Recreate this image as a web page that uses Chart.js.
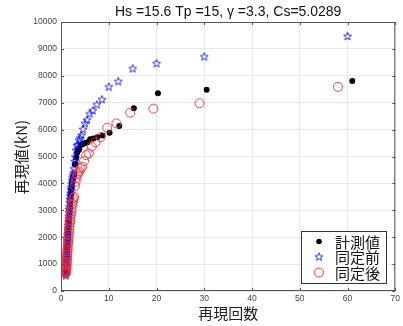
<!DOCTYPE html>
<html>
<head>
<meta charset="utf-8">
<script src="https://cdn.jsdelivr.net/npm/chart.js@4"></script>
<style>
  html, body { margin: 0; padding: 0; background: #fff; }
  #wrap { width: 403px; height: 326px; }
</style>
</head>
<body>
<div id="wrap"><canvas id="c" width="403" height="326"></canvas></div>
<script>
// values
const measuredX = [61, 30.5, 20.3, 15.25, 12.2, 10.17, 8.71, 7.63, 6.78, 6.1, 5.55, 5.08, 4.69, 4.36, 4.07, 3.81, 3.59, 3.39, 3.21, 3.05,
  2.9, 2.77, 2.65, 2.54, 2.44, 2.35, 2.26, 2.18, 2.1, 2.03, 1.97, 1.91, 1.85, 1.79, 1.74, 1.69, 1.65, 1.61, 1.56, 1.53,
  1.49, 1.45, 1.42, 1.39, 1.36, 1.33, 1.3, 1.27, 1.24, 1.22, 1.2, 1.17, 1.15, 1.13, 1.11, 1.09, 1.07, 1.05, 1.03, 1.02];
const measuredY = [7810, 7480, 7350, 6790, 6130, 5880, 5780, 5720, 5670, 5640, 5530, 5500, 5470, 5450, 5420, 5260, 5220, 5150, 4960, 4730,
  4700, 4330, 4280, 4200, 4130, 4060, 3900, 3780, 3650, 3550, 3400, 3250, 3100, 2980, 2850, 2700, 2620, 2520, 2400, 2300,
  2180, 2080, 2000, 1900, 1800, 1700, 1620, 1540, 1450, 1370, 1280, 1200, 1120, 1030, 950, 870, 800, 730, 670, 620];

const beforeX = [60, 30, 20, 15, 12, 10, 8.57, 7.5, 6.67, 6, 5.45, 5, 4.62, 4.29, 4, 3.75, 3.53, 3.33, 3.16, 3,
  2.86, 2.73, 2.61, 2.5, 2.4, 2.31, 2.22, 2.14, 2.07, 2, 1.94, 1.88, 1.82, 1.76, 1.71, 1.67, 1.62, 1.58, 1.54, 1.5,
  1.46, 1.43, 1.4, 1.36, 1.33, 1.3, 1.28, 1.25, 1.22, 1.2, 1.18, 1.15, 1.13, 1.11, 1.09, 1.07, 1.05, 1.03, 1.02, 1];
const beforeY = [9480, 8720, 8470, 8280, 7800, 7600, 7130, 6940, 6720, 6600, 6370, 6240, 6020, 5800, 5700, 5620, 5450, 5420, 5240, 5000,
  4830, 4560, 4400, 4300, 4220, 4120, 4000, 3880, 3780, 3650, 3550, 3420, 3300, 3150, 3050, 2920, 2800, 2700, 2580, 2450,
  2330, 2220, 2120, 2000, 1900, 1800, 1700, 1600, 1500, 1420, 1320, 1230, 1140, 1050, 960, 880, 800, 720, 650, 580];

const afterX = [58, 29, 19.33, 14.5, 11.6, 9.67, 8.29, 7.25, 6.44, 5.8, 5.27, 4.83, 4.46, 4.14, 3.87, 3.63, 3.41, 3.22, 3.05, 2.9,
  2.76, 2.64, 2.52, 2.42, 2.32, 2.23, 2.15, 2.07, 2, 1.93, 1.87, 1.81, 1.76, 1.71, 1.66, 1.61, 1.57, 1.53, 1.49, 1.45,
  1.41, 1.38, 1.35, 1.32, 1.29, 1.26, 1.23, 1.21, 1.18, 1.16, 1.14, 1.12, 1.09, 1.07, 1.05, 1.04, 1.02, 1];
const afterY = [7590, 6980, 6780, 6630, 6230, 6070, 5720, 5530, 5370, 5120, 5050, 4830, 4620, 4560, 4450, 4400, 4330, 4200, 4060, 3900,
  3500, 3450, 3350, 3250, 3200, 3050, 2950, 2850, 2780, 2650, 2580, 2500, 2400, 2300, 2200, 2100, 2000, 1900, 1820, 1750,
  1650, 1560, 1480, 1400, 1330, 1250, 1180, 1100, 1040, 980, 920, 870, 820, 780, 740, 700, 680, 650];

const seriesLabels = ["計測値", "同定前", "同定後"];
const titleText = "Hs =15.6 Tp =15, γ =3.3, Cs=5.0289";
const xTitle = "再現回数";
const yTitle = "再現値(kN)";

const toPts = (xs, ys) => xs.map((x, i) => ({ x, y: ys[i] }));

// pentagram marker like matlab 'p'
function starMarker(size, color) {
  const c = document.createElement("canvas");
  c.width = size; c.height = size;
  const g = c.getContext("2d");
  const cx = size / 2, cy = size / 2 + 0.5, R = size / 2 - 0.8, r = R * 0.42;
  g.beginPath();
  for (let i = 0; i < 10; i++) {
    const a = -Math.PI / 2 + i * Math.PI / 5;
    const rad = i % 2 ? r : R;
    const px = cx + rad * Math.cos(a), py = cy + rad * Math.sin(a);
    i ? g.lineTo(px, py) : g.moveTo(px, py);
  }
  g.closePath();
  g.strokeStyle = color;
  g.lineWidth = 0.8;
  g.stroke();
  return c;
}
const star = starMarker(10, "#0000ff");

const PLOT = { left: 61, right: 399, top: 22, bottom: 291 };

const decor = {
  id: "decor",
  afterDraw(chart) {
    const ctx = chart.ctx;
    const a = chart.chartArea;
    ctx.save();
    // box
    ctx.strokeStyle = "#555";
    ctx.lineWidth = 1;
    ctx.strokeRect(a.left + 0.5, a.top + 0.5, a.right - a.left - 1, a.bottom - a.top - 1);
    // inward ticks
    const xs = chart.scales.x, ys = chart.scales.y;
    ctx.beginPath();
    for (let v = 0; v <= 70; v += 10) {
      const px = Math.round(xs.getPixelForValue(v)) + 0.5;
      ctx.moveTo(px, a.bottom); ctx.lineTo(px, a.bottom - 3);
      ctx.moveTo(px, a.top); ctx.lineTo(px, a.top + 3);
    }
    for (let v = 0; v <= 10000; v += 1000) {
      const py = Math.round(ys.getPixelForValue(v)) + 0.5;
      ctx.moveTo(a.left, py); ctx.lineTo(a.left + 3, py);
      ctx.moveTo(a.right, py); ctx.lineTo(a.right - 3, py);
    }
    ctx.stroke();

    // title
    ctx.fillStyle = "#111";
    ctx.font = "14px 'Liberation Sans', Arial, sans-serif";
    ctx.textAlign = "center";
    ctx.textBaseline = "middle";
    ctx.fillText(titleText, (a.left + a.right) / 2, 12);

    // axis titles
    ctx.font = "15px 'Noto Sans CJK JP', sans-serif";
    ctx.fillStyle = "#222";
    ctx.fillText(xTitle, (a.left + a.right) / 2, 313);
    ctx.save();
    ctx.translate(21, 157);
    ctx.rotate(-Math.PI / 2);
    ctx.fillText(yTitle, 0, 0);
    ctx.restore();

    // legend
    const lx = 301, ly = 231, lw = 85, lh = 52;
    ctx.fillStyle = "#fff";
    ctx.fillRect(lx, ly, lw, lh);
    ctx.strokeStyle = "#333";
    ctx.lineWidth = 1;
    ctx.strokeRect(lx + 0.5, ly + 0.5, lw, lh);
    const rows = [241.5, 257, 272.5];
    ctx.font = "15px 'Noto Sans CJK JP', sans-serif";
    ctx.textAlign = "left";
    rows.forEach((ry, i) => {
      const mx = 319;
      if (i === 0) {
        ctx.fillStyle = "#000";
        ctx.beginPath(); ctx.arc(mx, ry, 2.8, 0, Math.PI * 2); ctx.fill();
      } else if (i === 1) {
        ctx.drawImage(star, mx - 5, ry - 5.5);
      } else {
        ctx.strokeStyle = "#ff3030";
        ctx.beginPath(); ctx.arc(mx, ry, 4.5, 0, Math.PI * 2); ctx.stroke();
      }
      ctx.fillStyle = "#111";
      ctx.fillText(seriesLabels[i], 335, ry + 0.5);
    });
    ctx.restore();
  },
};

const tickFont = { size: 8.5, family: "'Liberation Sans', Arial" };

new Chart(document.getElementById("c"), {
  type: "scatter",
  data: {
    datasets: [
      {
        label: seriesLabels[0], data: toPts(measuredX, measuredY), order: 3,
        pointStyle: "circle", pointRadius: 3, backgroundColor: "#000", borderColor: "#000", borderWidth: 0,
      },
      {
        label: seriesLabels[1], data: toPts(beforeX, beforeY), order: 2,
        pointStyle: star, pointRadius: 5,
      },
      {
        label: seriesLabels[2], data: toPts(afterX, afterY), order: 1,
        pointStyle: "circle", pointRadius: 4.5, backgroundColor: "rgba(0,0,0,0)", borderColor: "#ff3030", borderWidth: 0.9,
      },
    ],
  },
  options: {
    responsive: false,
    animation: false,
    devicePixelRatio: 1,
    layout: { padding: { left: 0, right: 403 - PLOT.right, top: PLOT.top, bottom: 0 } },
    plugins: { legend: { display: false }, tooltip: { enabled: false }, title: { display: false } },
    scales: {
      x: {
        type: "linear", min: 0, max: 70,
        ticks: { stepSize: 10, color: "#444", font: tickFont, padding: 3, maxRotation: 0, callback: (v) => String(v) },
        grid: { color: "#e8e8e8", drawTicks: false, lineWidth: 1 },
        border: { display: false },
        afterFit: (s) => { s.height = 326 - PLOT.bottom; },
      },
      y: {
        type: "linear", min: 0, max: 10000,
        ticks: { stepSize: 1000, color: "#444", font: tickFont, padding: 4, callback: (v) => String(v) },
        grid: { color: "#e8e8e8", drawTicks: false, lineWidth: 1 },
        border: { display: false },
        afterFit: (s) => { s.width = PLOT.left; },
      },
    },
  },
  plugins: [decor],
});
</script>
</body>
</html>
